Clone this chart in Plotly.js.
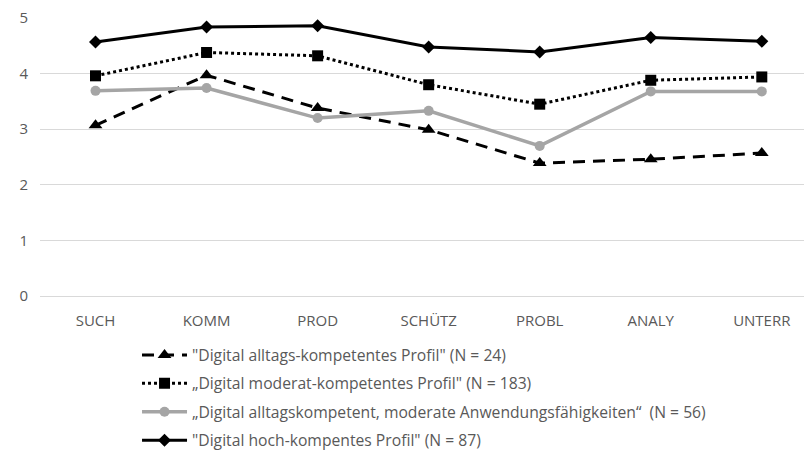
<!DOCTYPE html>
<html>
<head>
<meta charset="utf-8">
<script src="https://cdn.plot.ly/plotly-3.0.1.min.js"></script>
<style>html,body{margin:0;padding:0;background:#fff;}#chart{width:804px;height:470px;}</style>
</head>
<body>
<div id="chart"></div>
<script>
const categories = ["SUCH", "KOMM", "PROD", "SCHÜTZ", "PROBL", "ANALY", "UNTERR"];
const seriesNames = [
  "\"Digital alltags-kompetentes Profil\" (N = 24)",
  "„Digital moderat-kompetentes Profil\" (N = 183)",
  "„Digital alltagskompetent, moderate Anwendungsfähigkeiten“  (N = 56)",
  "\"Digital hoch-kompentes Profil\" (N = 87)"
];
const alltags = [3.07, 3.97, 3.38, 2.99, 2.39, 2.46, 2.57];
const moderat = [3.96, 4.38, 4.32, 3.80, 3.45, 3.88, 3.94];
const anwendung = [3.69, 3.74, 3.20, 3.33, 2.70, 3.68, 3.68];
const hoch = [4.57, 4.84, 4.86, 4.48, 4.39, 4.65, 4.58];
const yTicks = [0, 1, 2, 3, 4, 5];

const traces = [
  {x: categories, y: alltags, name: seriesNames[0], legendgroup: "a", mode: "lines+markers",
   line: {color: "#000000", width: 3, dash: "12px,8px"},
   marker: {symbol: "triangle-up", size: 12, color: "#000000"}},
  {x: categories, y: moderat, name: seriesNames[1], legendgroup: "b", mode: "lines+markers",
   line: {color: "#000000", width: 3, dash: "dot"},
   marker: {symbol: "square", size: 11, color: "#000000"}},
  {x: categories, y: anwendung, name: seriesNames[2], legendgroup: "c", mode: "lines+markers",
   line: {color: "#a5a5a5", width: 3.5},
   marker: {symbol: "circle", size: 10, color: "#a5a5a5"}},
  {x: categories, y: hoch, name: seriesNames[3], legendgroup: "d", mode: "lines+markers",
   line: {color: "#000000", width: 3},
   marker: {symbol: "diamond", size: 10, color: "#000000"}}
];

const layout = {
  width: 804, height: 470,
  margin: {l: 40, r: 0, t: 18, b: 174},
  paper_bgcolor: "#ffffff", plot_bgcolor: "#ffffff",
  font: {family: "Open Sans, Liberation Sans, sans-serif", size: 14, color: "#595959"},
  showlegend: true,
  legend: {x: 0.127, xanchor: "left", y: -0.152, yanchor: "top", orientation: "v",
           itemwidth: 45, traceorder: "grouped", tracegroupgap: 5,
           font: {size: 15.7, color: "#595959"}},
  xaxis: {type: "category", range: [-0.5, 6.38], showgrid: false, zeroline: false,
          showline: false, ticks: "", ticklabelstandoff: 14,
          tickfont: {size: 15, color: "#595959"}, fixedrange: true},
  yaxis: {range: [0, 5.0], tickvals: yTicks, showgrid: true, gridcolor: "#d9d9d9", gridwidth: 1,
          zeroline: true, zerolinecolor: "#d9d9d9", zerolinewidth: 1, showline: false, ticks: "",
          ticklabelstandoff: 11, tickfont: {size: 15, color: "#595959"}, fixedrange: true}
};

Plotly.newPlot("chart", traces, layout, {displayModeBar: false, staticPlot: true});
</script>
</body>
</html>
